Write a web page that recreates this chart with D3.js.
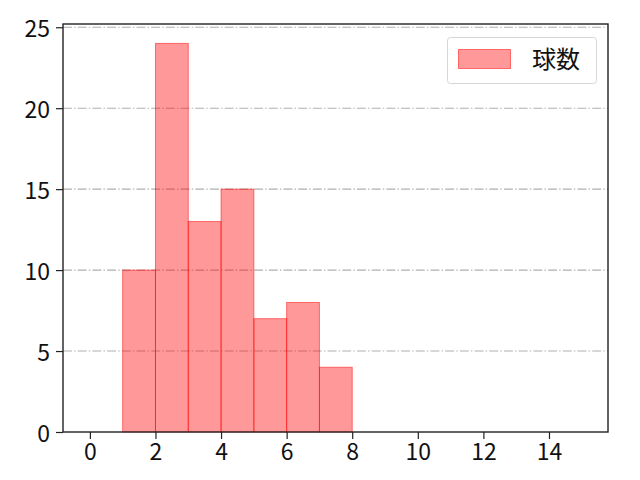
<!DOCTYPE html>
<html><head><meta charset="utf-8">
<script src="https://cdn.jsdelivr.net/npm/d3@7"></script>
<style>body{margin:0;background:#fff}svg{display:block}text{font-family:"Noto Sans CJK JP","Noto Sans",sans-serif}</style>
</head><body>
<script>
const binStarts = [1, 2, 3, 4, 5, 6, 7];
const counts = [10, 24, 13, 15, 7, 8, 4];
const binWidth = 1;
const xTicks = [0, 2, 4, 6, 8, 10, 12, 14];
const yTicks = [0, 5, 10, 15, 20, 25];
const seriesName = "球数";

const W = 640, H = 480;
const m = {l: 63, r: 608, t: 24, b: 432};
const svg = d3.select("body").append("svg").attr("width", W).attr("height", H);
const x = d3.scaleLinear().domain([-0.82, 15.8]).range([m.l, m.r]);
const y = d3.scaleLinear().domain([0, 25.2]).range([m.b, m.t]);

// grid
svg.append("g").selectAll("line").data(yTicks.slice(1)).join("line")
  .attr("x1", m.l).attr("x2", m.r).attr("y1", d => y(d)).attr("y2", d => y(d))
  .attr("stroke", "#b0b0b0").attr("stroke-width", 1.1).attr("stroke-dasharray", "8.9,2.2,1.4,2.2");

// bars
svg.append("g").selectAll("rect").data(binStarts).join("rect")
  .attr("x", d => x(d)).attr("width", d => x(d + binWidth) - x(d))
  .attr("y", (d, i) => y(counts[i])).attr("height", (d, i) => y(0) - y(counts[i]))
  .attr("fill", "rgba(255,0,0,0.4)").attr("stroke", "rgba(255,0,0,0.5)").attr("stroke-width", 1);

// axes
const xa = svg.append("g").attr("transform", `translate(0,${m.b})`)
  .call(d3.axisBottom(x).tickValues(xTicks).tickSize(7).tickPadding(5).tickFormat(d3.format("d")));
const ya = svg.append("g").attr("transform", `translate(${m.l},0)`)
  .call(d3.axisLeft(y).tickValues(yTicks).tickSize(7).tickPadding(6).tickFormat(d3.format("d")));
[xa, ya].forEach(a => {
  a.select(".domain").remove();
  a.selectAll("line").attr("stroke", "#222").attr("stroke-width", 1.2);
  a.selectAll("text").attr("font-size", 23).attr("fill", "#111")
    .style("font-family", '"Noto Sans CJK JP","Noto Sans",sans-serif');
});
ya.selectAll("text").attr("dy", "0.4em");

svg.append("rect").attr("x", m.l).attr("y", m.t).attr("width", m.r - m.l).attr("height", m.b - m.t)
  .attr("fill", "none").attr("stroke", "#222").attr("stroke-width", 1.4);

// legend
const lg = svg.append("g");
lg.append("rect").attr("x", 447.5).attr("y", 37.5).attr("width", 149).attr("height", 46).attr("rx", 3)
  .attr("fill", "rgba(255,255,255,0.8)").attr("stroke", "#d6d6d6");
lg.append("rect").attr("x", 458.5).attr("y", 49.5).attr("width", 52).attr("height", 19)
  .attr("fill", "rgba(255,0,0,0.4)").attr("stroke", "rgba(255,0,0,0.5)");
lg.append("text").attr("x", 532).attr("y", 68).attr("font-size", 24).attr("fill", "#111").text(seriesName);
</script>
</body></html>
